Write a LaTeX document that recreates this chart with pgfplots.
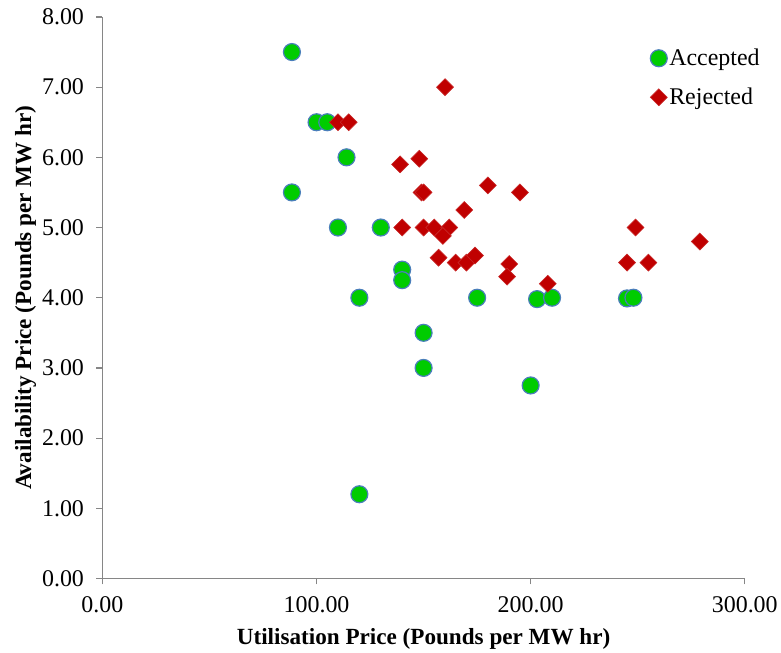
\documentclass[border=0pt]{standalone}
\usepackage{fontspec}
\setmainfont{Liberation Serif}
\usepackage{pgfplots}
\pgfplotsset{compat=1.18}
\definecolor{accg}{RGB}{0,204,0}
\definecolor{accb}{RGB}{74,126,187}
\definecolor{rejr}{RGB}{192,0,0}
\definecolor{rejb}{RGB}{200,40,40}
\definecolor{axgray}{RGB}{134,134,134}
\begin{document}
\begin{tikzpicture}
\begin{axis}[
  scale only axis,
  width=644pt, height=563pt,
  xmin=0, xmax=300, ymin=0, ymax=8,
  xtick={0,100,200,300}, ytick={0,1,...,8},
  axis lines*=left,
  axis line style={axgray, line width=1.2pt, -},
  tick style={axgray, line width=1.2pt},
  tick align=outside, major tick length=6pt,
  xtick pos=bottom, ytick pos=left,
  /pgf/number format/assume math mode=true,
  /pgf/number format/.cd, fixed, fixed zerofill, precision=2, 1000 sep={},
  /pgfplots/.cd,
  tick label style={font=\fontsize{24}{28}\selectfont},
  xticklabel style={yshift=-9pt},
  yticklabel style={xshift=-9pt},
  xlabel={Utilisation Price (Pounds per MW hr)},
  ylabel={Availability Price (Pounds per MW hr)},
  label style={font=\fontsize{23.2}{27}\selectfont\bfseries},
  xlabel style={yshift=-8pt},
  ylabel style={yshift=-1pt},
  legend style={draw=none, fill=none, at={(0.848,0.95)}, anchor=north west,
    font=\fontsize{24}{28}\selectfont, row sep=17pt,
    legend cell align=left},
]
\addplot[only marks, mark=*, mark size=8.5pt,
  mark options={fill=accg, draw=accb, line width=1.2pt}] coordinates {
(88.5,7.5) (88.5,5.5) (100,6.5) (105,6.5) (114,6.0) (110,5.0) (130,5.0)
(140,4.4) (140,4.25) (120,4.0) (150,3.5) (150,3.0) (175,4.0) (203,3.98)
(210,4.0) (245,3.99) (248,4.0) (200,2.75) (120,1.2)
};
\addlegendentry{Accepted}
\addplot[only marks, mark=square*, mark size=6pt,
  mark options={fill=rejr, draw=rejb, line width=0.6pt, rotate=45}] coordinates {
(160,7.0) (110,6.5) (115,6.5) (139,5.9) (148,5.98) (149,5.5) (150,5.5)
(180,5.6) (195,5.5) (169,5.25) (140,5.0) (150,5.0) (155,5.0) (162,5.0)
(159,4.88) (157,4.57) (165,4.5) (170,4.5) (174,4.6) (190,4.48) (189,4.3)
(208,4.2) (249,5.0) (279,4.8) (245,4.5) (255,4.5)
};
\addlegendentry{Rejected}
\end{axis}
\path[use as bounding box] ([shift={(-102.7pt,-73pt)}]current axis.south west) rectangle ([shift={(34.3pt,17pt)}]current axis.north east);
\end{tikzpicture}
\end{document}
